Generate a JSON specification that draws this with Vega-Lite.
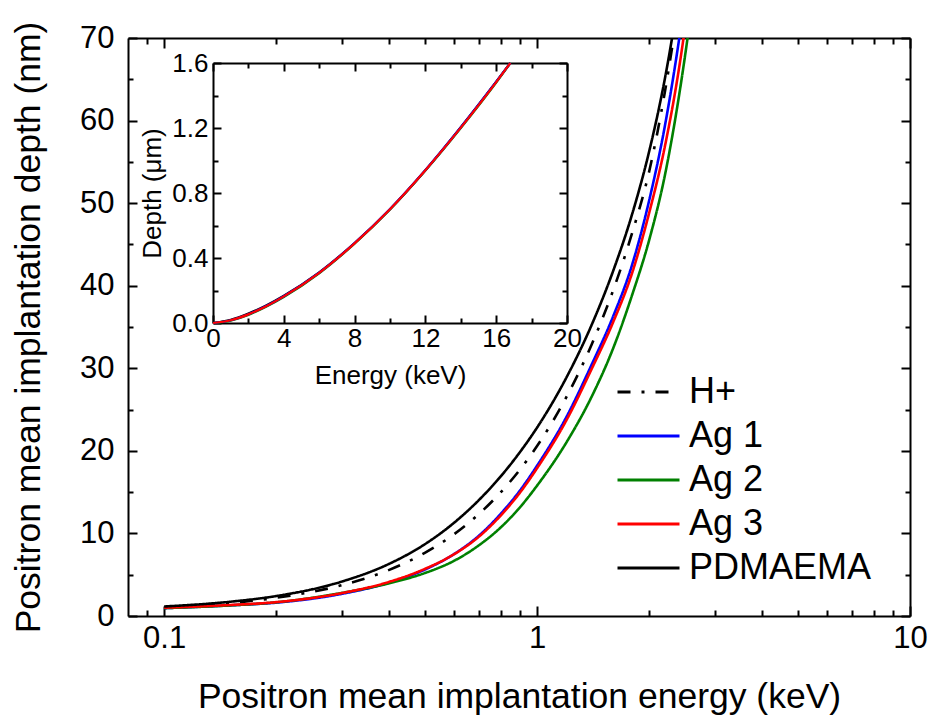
{
  "$schema": "https://vega.github.io/schema/vega-lite/v6.json",
  "width": 782,
  "height": 578,
  "autosize": {"type": "none"},
  "padding": {"left": 128, "top": 38, "right": 20, "bottom": 109},
  "background": "white",
  "config": {
    "font": "Liberation Sans",
    "view": {"stroke": null},
    "axis": {"grid": false, "domainColor": "black", "tickColor": "black", "labelColor": "black", "titleColor": "black", "labelFont": "Liberation Sans", "titleFont": "Liberation Sans", "titleFontWeight": "normal", "labelOverlap": false, "labelFlush": false, "labelBound": false}
  },
  "datasets": {
    "main": [
      {"series": "H+", "energy": 0.1, "depth": 1.0}, {"series": "H+", "energy": 0.15, "depth": 1.56}, {"series": "H+", "energy": 0.2, "depth": 2.21}, {"series": "H+", "energy": 0.3, "depth": 3.74}, {"series": "H+", "energy": 0.4, "depth": 5.56}, {"series": "H+", "energy": 0.5, "depth": 7.64}, {"series": "H+", "energy": 0.6, "depth": 9.93}, {"series": "H+", "energy": 0.7, "depth": 12.4}, {"series": "H+", "energy": 0.8, "depth": 15.01}, {"series": "H+", "energy": 0.9, "depth": 17.74}, {"series": "H+", "energy": 1.0, "depth": 20.58}, {"series": "H+", "energy": 1.2, "depth": 26.56}, {"series": "H+", "energy": 1.4, "depth": 32.86}, {"series": "H+", "energy": 1.6, "depth": 39.46}, {"series": "H+", "energy": 1.8, "depth": 46.43}, {"series": "H+", "energy": 2.0, "depth": 53.92}, {"series": "H+", "energy": 2.2, "depth": 63.4}, {"series": "H+", "energy": 2.4, "depth": 74.2},
      {"series": "Ag 1", "energy": 0.1, "depth": 0.95}, {"series": "Ag 1", "energy": 0.15, "depth": 1.29}, {"series": "Ag 1", "energy": 0.2, "depth": 1.62}, {"series": "Ag 1", "energy": 0.3, "depth": 2.69}, {"series": "Ag 1", "energy": 0.4, "depth": 4.02}, {"series": "Ag 1", "energy": 0.5, "depth": 5.62}, {"series": "Ag 1", "energy": 0.6, "depth": 7.52}, {"series": "Ag 1", "energy": 0.7, "depth": 9.77}, {"series": "Ag 1", "energy": 0.8, "depth": 12.4}, {"series": "Ag 1", "energy": 0.9, "depth": 15.2}, {"series": "Ag 1", "energy": 1.0, "depth": 18.2}, {"series": "Ag 1", "energy": 1.2, "depth": 24.14}, {"series": "Ag 1", "energy": 1.4, "depth": 30.42}, {"series": "Ag 1", "energy": 1.6, "depth": 36.3}, {"series": "Ag 1", "energy": 1.8, "depth": 42.6}, {"series": "Ag 1", "energy": 2.0, "depth": 50.41}, {"series": "Ag 1", "energy": 2.2, "depth": 59.28}, {"series": "Ag 1", "energy": 2.4, "depth": 69.64}, {"series": "Ag 1", "energy": 2.6, "depth": 81.08},
      {"series": "Ag 2", "energy": 0.1, "depth": 0.95}, {"series": "Ag 2", "energy": 0.15, "depth": 1.28}, {"series": "Ag 2", "energy": 0.2, "depth": 1.66}, {"series": "Ag 2", "energy": 0.3, "depth": 2.8}, {"series": "Ag 2", "energy": 0.4, "depth": 3.95}, {"series": "Ag 2", "energy": 0.5, "depth": 5.2}, {"series": "Ag 2", "energy": 0.6, "depth": 6.7}, {"series": "Ag 2", "energy": 0.7, "depth": 8.6}, {"series": "Ag 2", "energy": 0.8, "depth": 10.75}, {"series": "Ag 2", "energy": 0.9, "depth": 13.17}, {"series": "Ag 2", "energy": 1.0, "depth": 15.79}, {"series": "Ag 2", "energy": 1.2, "depth": 21.06}, {"series": "Ag 2", "energy": 1.4, "depth": 26.54}, {"series": "Ag 2", "energy": 1.6, "depth": 32.43}, {"series": "Ag 2", "energy": 1.8, "depth": 38.93}, {"series": "Ag 2", "energy": 2.0, "depth": 45.6}, {"series": "Ag 2", "energy": 2.2, "depth": 53.3}, {"series": "Ag 2", "energy": 2.4, "depth": 62.88}, {"series": "Ag 2", "energy": 2.6, "depth": 73.8}, {"series": "Ag 2", "energy": 2.8, "depth": 85.6},
      {"series": "Ag 3", "energy": 0.1, "depth": 1.0}, {"series": "Ag 3", "energy": 0.15, "depth": 1.33}, {"series": "Ag 3", "energy": 0.2, "depth": 1.68}, {"series": "Ag 3", "energy": 0.3, "depth": 2.78}, {"series": "Ag 3", "energy": 0.4, "depth": 4.12}, {"series": "Ag 3", "energy": 0.5, "depth": 5.7}, {"series": "Ag 3", "energy": 0.6, "depth": 7.5}, {"series": "Ag 3", "energy": 0.7, "depth": 9.65}, {"series": "Ag 3", "energy": 0.8, "depth": 12.2}, {"series": "Ag 3", "energy": 0.9, "depth": 14.95}, {"series": "Ag 3", "energy": 1.0, "depth": 17.9}, {"series": "Ag 3", "energy": 1.2, "depth": 23.75}, {"series": "Ag 3", "energy": 1.4, "depth": 29.9}, {"series": "Ag 3", "energy": 1.6, "depth": 35.6}, {"series": "Ag 3", "energy": 1.8, "depth": 41.6}, {"series": "Ag 3", "energy": 2.0, "depth": 48.9}, {"series": "Ag 3", "energy": 2.2, "depth": 56.8}, {"series": "Ag 3", "energy": 2.4, "depth": 66.2}, {"series": "Ag 3", "energy": 2.6, "depth": 77.4},
      {"series": "PDMAEMA", "energy": 0.1, "depth": 1.15}, {"series": "PDMAEMA", "energy": 0.15, "depth": 1.72}, {"series": "PDMAEMA", "energy": 0.2, "depth": 2.42}, {"series": "PDMAEMA", "energy": 0.3, "depth": 4.18}, {"series": "PDMAEMA", "energy": 0.4, "depth": 6.29}, {"series": "PDMAEMA", "energy": 0.5, "depth": 8.69}, {"series": "PDMAEMA", "energy": 0.6, "depth": 11.32}, {"series": "PDMAEMA", "energy": 0.7, "depth": 14.09}, {"series": "PDMAEMA", "energy": 0.8, "depth": 16.94}, {"series": "PDMAEMA", "energy": 0.9, "depth": 19.86}, {"series": "PDMAEMA", "energy": 1.0, "depth": 22.82}, {"series": "PDMAEMA", "energy": 1.2, "depth": 28.92}, {"series": "PDMAEMA", "energy": 1.4, "depth": 35.23}, {"series": "PDMAEMA", "energy": 1.6, "depth": 41.8}, {"series": "PDMAEMA", "energy": 1.8, "depth": 48.72}, {"series": "PDMAEMA", "energy": 2.0, "depth": 56.35}, {"series": "PDMAEMA", "energy": 2.2, "depth": 65.0}, {"series": "PDMAEMA", "energy": 2.4, "depth": 75.0}
    ],
    "inset": [
      {"series": "PDMAEMA", "energy": 0, "depth": 0}, {"series": "PDMAEMA", "energy": 1, "depth": 0.02}, {"series": "PDMAEMA", "energy": 2, "depth": 0.058}, {"series": "PDMAEMA", "energy": 3, "depth": 0.108}, {"series": "PDMAEMA", "energy": 4, "depth": 0.168}, {"series": "PDMAEMA", "energy": 6, "depth": 0.312}, {"series": "PDMAEMA", "energy": 8, "depth": 0.492}, {"series": "PDMAEMA", "energy": 10, "depth": 0.7}, {"series": "PDMAEMA", "energy": 12, "depth": 0.94}, {"series": "PDMAEMA", "energy": 14, "depth": 1.205}, {"series": "PDMAEMA", "energy": 16, "depth": 1.485}, {"series": "PDMAEMA", "energy": 16.8, "depth": 1.6},
      {"series": "Ag 2", "energy": 0, "depth": 0}, {"series": "Ag 2", "energy": 1, "depth": 0.015}, {"series": "Ag 2", "energy": 2, "depth": 0.05}, {"series": "Ag 2", "energy": 3, "depth": 0.1}, {"series": "Ag 2", "energy": 4, "depth": 0.16}, {"series": "Ag 2", "energy": 6, "depth": 0.306}, {"series": "Ag 2", "energy": 8, "depth": 0.488}, {"series": "Ag 2", "energy": 10, "depth": 0.698}, {"series": "Ag 2", "energy": 12, "depth": 0.938}, {"series": "Ag 2", "energy": 14, "depth": 1.2}, {"series": "Ag 2", "energy": 16, "depth": 1.48}, {"series": "Ag 2", "energy": 16.8, "depth": 1.6},
      {"series": "Ag 1", "energy": 0, "depth": 0}, {"series": "Ag 1", "energy": 1, "depth": 0.017}, {"series": "Ag 1", "energy": 2, "depth": 0.054}, {"series": "Ag 1", "energy": 3, "depth": 0.104}, {"series": "Ag 1", "energy": 4, "depth": 0.165}, {"series": "Ag 1", "energy": 6, "depth": 0.31}, {"series": "Ag 1", "energy": 8, "depth": 0.492}, {"series": "Ag 1", "energy": 10, "depth": 0.702}, {"series": "Ag 1", "energy": 12, "depth": 0.942}, {"series": "Ag 1", "energy": 14, "depth": 1.205}, {"series": "Ag 1", "energy": 16, "depth": 1.485}, {"series": "Ag 1", "energy": 16.8, "depth": 1.6},
      {"series": "Ag 3", "energy": 0, "depth": 0}, {"series": "Ag 3", "energy": 1, "depth": 0.017}, {"series": "Ag 3", "energy": 2, "depth": 0.053}, {"series": "Ag 3", "energy": 3, "depth": 0.103}, {"series": "Ag 3", "energy": 4, "depth": 0.164}, {"series": "Ag 3", "energy": 6, "depth": 0.309}, {"series": "Ag 3", "energy": 8, "depth": 0.49}, {"series": "Ag 3", "energy": 10, "depth": 0.7}, {"series": "Ag 3", "energy": 12, "depth": 0.94}, {"series": "Ag 3", "energy": 14, "depth": 1.202}, {"series": "Ag 3", "energy": 16, "depth": 1.482}, {"series": "Ag 3", "energy": 16.8, "depth": 1.6}
    ]
  },
  "layer": [
    {
      "data": {"name": "main"},
      "layer": [
        {
          "mark": {"type": "line", "clip": true, "strokeWidth": 2.6, "interpolate": "monotone"},
          "encoding": {
            "x": {"field": "energy", "type": "quantitative", "scale": {"type": "log", "domain": [0.08, 10]},
              "axis": {"orient": "bottom", "values": [0.09, 0.1, 0.2, 0.3, 0.4, 0.5, 0.6, 0.7, 0.8, 0.9, 1, 2, 3, 4, 5, 6, 7, 8, 9, 10], "format": "~g",
                "labelExpr": "(datum.value == 0.1 || datum.value == 1 || datum.value == 10) ? datum.label : ''",
                "tickSize": {"condition": {"test": "datum.value == 0.1 || datum.value == 1 || datum.value == 10", "value": -10}, "value": -6},
                "tickWidth": 2, "domainWidth": 2, "labelFontSize": 31, "labelPadding": 17,
                "title": "Positron mean implantation energy (keV)", "titleFontSize": 35.5, "titlePadding": 22}},
            "y": {"field": "depth", "type": "quantitative", "scale": {"domain": [0, 70]},
              "axis": {"orient": "left", "values": [0, 5, 10, 15, 20, 25, 30, 35, 40, 45, 50, 55, 60, 65, 70],
                "labelExpr": "datum.value % 10 == 0 ? datum.label : ''",
                "tickSize": {"condition": {"test": "datum.value % 10 == 0", "value": -9}, "value": -5},
                "tickWidth": 2, "domainWidth": 2, "labelFontSize": 31, "labelPadding": 23,
                "title": "Positron mean implantation depth (nm)", "titleFontSize": 35.5, "titlePadding": 33}},
            "color": {"field": "series", "type": "nominal",
              "scale": {"domain": ["H+", "Ag 1", "Ag 2", "Ag 3", "PDMAEMA"], "range": ["#000000", "#0000ff", "#008000", "#ff0000", "#000000"]},
              "legend": {"orient": "none", "legendX": 488, "legendY": 336, "title": null, "symbolType": "stroke", "symbolSize": 3844, "symbolStrokeWidth": 3, "labelFontSize": 36, "labelOffset": 8, "labelLimit": 400, "clipHeight": 36, "rowPadding": 8, "padding": 0, "labelColor": "black", "labelFont": "Liberation Sans"}},
            "strokeDash": {"field": "series", "type": "nominal",
              "scale": {"domain": ["H+", "Ag 1", "Ag 2", "Ag 3", "PDMAEMA"], "range": [[13, 11, 3, 11], [1, 0], [1, 0], [1, 0], [1, 0]]},
              "legend": {"orient": "none", "legendX": 488, "legendY": 336, "title": null, "symbolType": "stroke", "symbolSize": 3844, "symbolStrokeWidth": 3, "labelFontSize": 36, "labelOffset": 8, "labelLimit": 400, "clipHeight": 36, "rowPadding": 8, "padding": 0, "labelColor": "black", "labelFont": "Liberation Sans"}}
          }
        },
        {
          "mark": {"type": "point", "opacity": 0, "clip": true},
          "encoding": {
            "x": {"field": "energy", "type": "quantitative", "scale": {"type": "log", "domain": [0.08, 10]},
              "axis": {"orient": "top", "values": [0.09, 0.1, 0.2, 0.3, 0.4, 0.5, 0.6, 0.7, 0.8, 0.9, 1, 2, 3, 4, 5, 6, 7, 8, 9, 10], "labels": false, "title": null,
                "tickSize": {"condition": {"test": "datum.value == 0.1 || datum.value == 1 || datum.value == 10", "value": -10}, "value": -6},
                "tickWidth": 2, "domainWidth": 2}},
            "y": {"field": "depth", "type": "quantitative", "scale": {"domain": [0, 70]},
              "axis": {"orient": "right", "values": [0, 5, 10, 15, 20, 25, 30, 35, 40, 45, 50, 55, 60, 65, 70], "labels": false, "title": null,
                "tickSize": {"condition": {"test": "datum.value % 10 == 0", "value": -9}, "value": -5},
                "tickWidth": 2, "domainWidth": 2}}
          }
        }
      ],
      "resolve": {"axis": {"x": "independent", "y": "independent"}}
    },
    {
      "data": {"name": "inset"},
      "layer": [
        {
          "mark": {"type": "line", "strokeWidth": 2.2, "interpolate": "monotone"},
          "encoding": {
            "x": {"field": "energy", "type": "quantitative", "scale": {"domain": [0, 20], "range": [85, 439], "nice": false},
              "axis": {"orient": "bottom", "offset": -293, "values": [0, 2, 4, 6, 8, 10, 12, 14, 16, 18, 20],
                "labelExpr": "datum.value % 4 == 0 ? datum.label : ''",
                "tickSize": {"condition": {"test": "datum.value % 4 == 0", "value": -8}, "value": -5},
                "tickWidth": 2, "domainWidth": 2, "labelFontSize": 26, "labelPadding": 10,
                "title": "Energy (keV)", "titleFontSize": 26, "titlePadding": 8}},
            "y": {"field": "depth", "type": "quantitative", "scale": {"domain": [0, 1.6], "range": [285, 25], "nice": false},
              "axis": {"orient": "left", "offset": -85, "values": [0, 0.2, 0.4, 0.6, 0.8, 1.0, 1.2, 1.4, 1.6], "format": ".1f",
                "labelExpr": "round(datum.value * 10) % 4 == 0 ? datum.label : ''",
                "tickSize": {"condition": {"test": "round(datum.value * 10) % 4 == 0", "value": -8}, "value": -5},
                "tickWidth": 2, "domainWidth": 2, "labelFontSize": 26, "labelPadding": 13,
                "title": "Depth (μm)", "titleFontSize": 26, "titlePadding": 6}},
            "color": {"field": "series", "type": "nominal", "legend": null}
          }
        },
        {
          "mark": {"type": "point", "opacity": 0},
          "encoding": {
            "x": {"field": "energy", "type": "quantitative", "scale": {"domain": [0, 20], "range": [85, 439], "nice": false},
              "axis": {"orient": "top", "offset": -25, "values": [0, 2, 4, 6, 8, 10, 12, 14, 16, 18, 20], "labels": false, "title": null,
                "tickSize": {"condition": {"test": "datum.value % 4 == 0", "value": -8}, "value": -5},
                "tickWidth": 2, "domainWidth": 2}},
            "y": {"field": "depth", "type": "quantitative", "scale": {"domain": [0, 1.6], "range": [285, 25], "nice": false},
              "axis": {"orient": "right", "offset": -343, "values": [0, 0.2, 0.4, 0.6, 0.8, 1.0, 1.2, 1.4, 1.6], "labels": false, "title": null,
                "tickSize": {"condition": {"test": "round(datum.value * 10) % 4 == 0", "value": -8}, "value": -5},
                "tickWidth": 2, "domainWidth": 2}}
          }
        }
      ],
      "resolve": {"axis": {"x": "independent", "y": "independent"}}
    }
  ],
  "resolve": {"scale": {"x": "independent", "y": "independent"}, "axis": {"x": "independent", "y": "independent"}}
}
